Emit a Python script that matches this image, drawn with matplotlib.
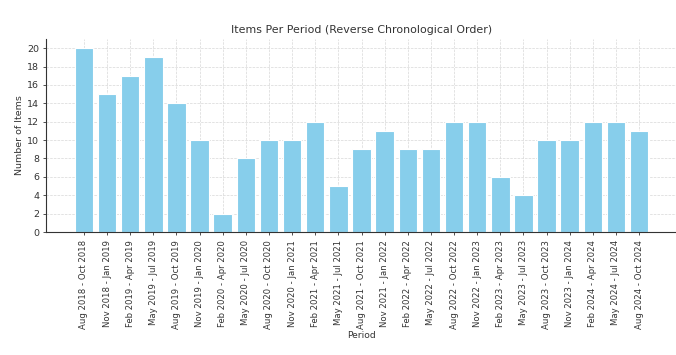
import matplotlib
matplotlib.use("Agg")
import matplotlib.pyplot as plt

periods = ["Aug 2018 - Oct 2018", "Nov 2018 - Jan 2019", "Feb 2019 - Apr 2019", "May 2019 - Jul 2019",
           "Aug 2019 - Oct 2019", "Nov 2019 - Jan 2020", "Feb 2020 - Apr 2020", "May 2020 - Jul 2020",
           "Aug 2020 - Oct 2020", "Nov 2020 - Jan 2021", "Feb 2021 - Apr 2021", "May 2021 - Jul 2021",
           "Aug 2021 - Oct 2021", "Nov 2021 - Jan 2022", "Feb 2022 - Apr 2022", "May 2022 - Jul 2022",
           "Aug 2022 - Oct 2022", "Nov 2022 - Jan 2023", "Feb 2023 - Apr 2023", "May 2023 - Jul 2023",
           "Aug 2023 - Oct 2023", "Nov 2023 - Jan 2024", "Feb 2024 - Apr 2024", "May 2024 - Jul 2024",
           "Aug 2024 - Oct 2024"]
counts = [20, 15, 17, 19, 14, 10, 2, 8, 10, 10, 12, 5, 9, 11, 9, 9, 12, 12, 6, 4, 10, 10, 12, 12, 11]
yticks = [0, 2, 4, 6, 8, 10, 12, 14, 16, 18, 20]

text_color = "#333333"
fig = plt.figure(figsize=(6.76, 3.55), dpi=100)
ax = fig.add_axes([46/676, (355-232)/355, 631/676, (232-39)/355])
x = list(range(len(periods)))
ax.bar(x, counts, color="skyblue", edgecolor="white", linewidth=0.8, zorder=2)
ax.set_xticks(x)
ax.set_xticklabels(periods, rotation=90, fontsize=6.1, color=text_color)
ax.set_yticks(yticks)
ax.tick_params(axis="y", labelsize=6.8, colors=text_color, length=2.5, width=0.6, pad=2.5)
ax.tick_params(axis="x", colors=text_color, length=2.5, width=0.6)
ax.grid(True, linestyle="--", linewidth=0.5, color="#d8d8d8", zorder=0)
ax.set_axisbelow(True)
for s in ["top", "right"]:
    ax.spines[s].set_visible(False)
for s in ["left", "bottom"]:
    ax.spines[s].set_color(text_color)
    ax.spines[s].set_linewidth(0.8)
ax.set_title("Items Per Period (Reverse Chronological Order)", fontsize=7.9, color=text_color, pad=4)
ax.set_xlabel("Period", fontsize=6.6, color=text_color, labelpad=1)
ax.set_ylabel("Number of Items", fontsize=6.8, color=text_color, labelpad=2)
fig.savefig("out.png", dpi=100)
